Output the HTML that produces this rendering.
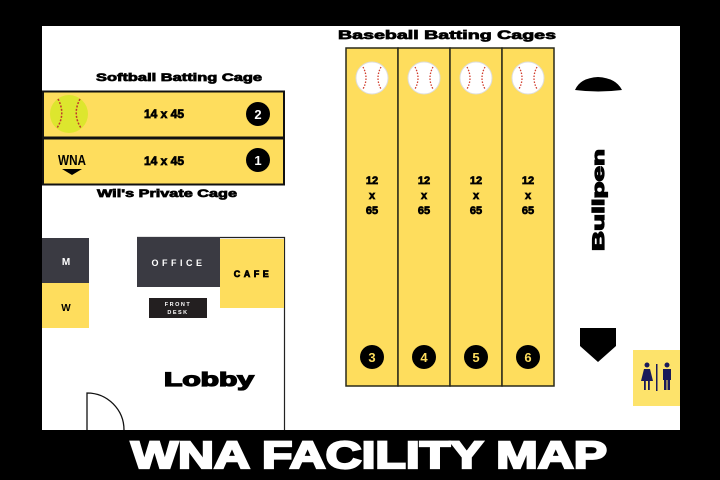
<!DOCTYPE html>
<html><head><meta charset="utf-8"><style>
html,body{margin:0;padding:0;background:#000;}
svg{display:block;}
text{font-family:"Liberation Sans",sans-serif;font-weight:bold;}
.h{stroke:#000;stroke-width:0.7;}
</style></head><body>
<svg width="720" height="480" viewBox="0 0 720 480" xmlns="http://www.w3.org/2000/svg">
<rect width="720" height="480" fill="#000"/>
<rect x="42" y="26" width="638" height="404" fill="#fff"/>

<!-- Softball cages -->
<text class="h" x="179" y="81" font-size="11" text-anchor="middle" textLength="166" lengthAdjust="spacingAndGlyphs">Softball Batting Cage</text>
<rect x="43" y="91.5" width="241" height="46" fill="#fedd5d" stroke="#111" stroke-width="2"/>
<rect x="43" y="138.5" width="241" height="46" fill="#fedd5d" stroke="#111" stroke-width="2"/>
<circle cx="69" cy="114" r="19" fill="#dde62e"/>
<path d="M58 99 Q66 114 57 128 M80 99 Q72 114 81 128" stroke="#c0392b" stroke-width="1.5" fill="none" stroke-dasharray="2 1.5"/>
<text class="h" x="164" y="118" font-size="12" text-anchor="middle">14 x 45</text>
<text class="h" x="164" y="165" font-size="12" text-anchor="middle">14 x 45</text>
<circle cx="258" cy="114" r="12" fill="#000"/><text x="258" y="119" font-size="13" fill="#fff" text-anchor="middle">2</text>
<circle cx="258" cy="160" r="12" fill="#000"/><text x="258" y="165" font-size="13" fill="#fff" text-anchor="middle">1</text>
<text x="72" y="165" font-size="15" text-anchor="middle" textLength="28" lengthAdjust="spacingAndGlyphs">WNA</text>
<path d="M62 169 L82 169 L72 175 Z" fill="#000"/>
<text class="h" x="167" y="197" font-size="11" text-anchor="middle" textLength="140" lengthAdjust="spacingAndGlyphs">Wil's Private Cage</text>

<!-- Restrooms M/W -->
<rect x="42" y="238" width="47" height="45" fill="#3a3a42"/>
<text x="66" y="265" font-size="10" fill="#fff" text-anchor="middle">M</text>
<rect x="42" y="283" width="47" height="45" fill="#fedd5d"/>
<text x="66" y="311" font-size="10" text-anchor="middle">W</text>

<!-- Lobby area -->
<path d="M137 237.5 L284.5 237.5 L284.5 430" stroke="#222" stroke-width="1.2" fill="none"/>
<rect x="137" y="237" width="83" height="50" fill="#3a3a42"/>
<text x="178.5" y="266" font-size="9" fill="#fff" text-anchor="middle" letter-spacing="3.5">OFFICE</text>
<rect x="220" y="239" width="64" height="69" fill="#fedd5d"/>
<text class="h" x="253" y="277" font-size="9" text-anchor="middle" letter-spacing="3.5">CAFE</text>
<rect x="149" y="298" width="58" height="20" fill="#231f20"/>
<text x="178" y="306" font-size="5.5" fill="#fff" text-anchor="middle" letter-spacing="1.5">FRONT</text>
<text x="178" y="314" font-size="5.5" fill="#fff" text-anchor="middle" letter-spacing="1.5">DESK</text>
<text x="209" y="386" font-size="19" text-anchor="middle" textLength="90" lengthAdjust="spacingAndGlyphs" stroke="#000" stroke-width="1.3">Lobby</text>
<path d="M87 430 L87 393 A37 37 0 0 1 124 430" stroke="#111" stroke-width="1.3" fill="none"/>

<!-- Baseball cages -->
<text class="h" x="447" y="39" font-size="12" text-anchor="middle" textLength="218" lengthAdjust="spacingAndGlyphs">Baseball Batting Cages</text>
<g stroke="#2a2a1a" stroke-width="1.5" fill="#fedd5d">
<rect x="346" y="48" width="52" height="338"/>
<rect x="398" y="48" width="52" height="338"/>
<rect x="450" y="48" width="52" height="338"/>
<rect x="502" y="48" width="52" height="338"/>
</g>
<g font-size="11" text-anchor="middle">
<g transform="translate(372,0)"><circle cx="0" cy="78" r="16" fill="#fff" stroke="#ddd"/><path d="M-9 67 Q-3 78 -9 89 M9 67 Q3 78 9 89" stroke="#d03a2a" stroke-width="1.3" fill="none" stroke-dasharray="1.5 1.5"/><text class="h" y="184">12</text><text class="h" y="199">x</text><text class="h" y="214">65</text><circle cx="0" cy="357" r="12" fill="#000"/><text y="362" fill="#fedd5d" font-size="13" font-weight="normal">3</text></g>
<g transform="translate(424,0)"><circle cx="0" cy="78" r="16" fill="#fff" stroke="#ddd"/><path d="M-9 67 Q-3 78 -9 89 M9 67 Q3 78 9 89" stroke="#d03a2a" stroke-width="1.3" fill="none" stroke-dasharray="1.5 1.5"/><text class="h" y="184">12</text><text class="h" y="199">x</text><text class="h" y="214">65</text><circle cx="0" cy="357" r="12" fill="#000"/><text y="362" fill="#fedd5d" font-size="13" font-weight="normal">4</text></g>
<g transform="translate(476,0)"><circle cx="0" cy="78" r="16" fill="#fff" stroke="#ddd"/><path d="M-9 67 Q-3 78 -9 89 M9 67 Q3 78 9 89" stroke="#d03a2a" stroke-width="1.3" fill="none" stroke-dasharray="1.5 1.5"/><text class="h" y="184">12</text><text class="h" y="199">x</text><text class="h" y="214">65</text><circle cx="0" cy="357" r="12" fill="#000"/><text y="362" fill="#fedd5d" font-size="13" font-weight="normal">5</text></g>
<g transform="translate(528,0)"><circle cx="0" cy="78" r="16" fill="#fff" stroke="#ddd"/><path d="M-9 67 Q-3 78 -9 89 M9 67 Q3 78 9 89" stroke="#d03a2a" stroke-width="1.3" fill="none" stroke-dasharray="1.5 1.5"/><text class="h" y="184">12</text><text class="h" y="199">x</text><text class="h" y="214">65</text><circle cx="0" cy="357" r="12" fill="#000"/><text y="362" fill="#fedd5d" font-size="13" font-weight="normal">6</text></g>
</g>

<!-- Bullpen -->
<path d="M575 90 Q580 78 598 77 Q616 78 622 90 Q598 93 575 90 Z" fill="#000"/>
<text transform="translate(604,200) rotate(-90)" font-size="17" text-anchor="middle" textLength="102" lengthAdjust="spacingAndGlyphs" stroke="#000" stroke-width="1.2">Bullpen</text>
<path d="M580 328 L616 328 L616 346 L598 362 L580 346 Z" fill="#000"/>

<!-- Restroom -->
<rect x="633" y="350" width="47" height="56" fill="#fde36b"/>
<g fill="#1a1a5a">
<circle cx="647" cy="365" r="2.5"/><path d="M644 369 L650 369 L653 381 L641 381 Z"/><rect x="644" y="381" width="1.8" height="9"/><rect x="648" y="381" width="1.8" height="9"/>
<rect x="656" y="364" width="1.5" height="27"/>
<circle cx="667" cy="365" r="2.5"/><rect x="663" y="369" width="8" height="11"/><rect x="664" y="380" width="2.5" height="10"/><rect x="667.5" y="380" width="2.5" height="10"/>
</g>

<!-- Title -->
<text x="369" y="468" font-size="38" fill="#fff" stroke="#fff" stroke-width="2.2" text-anchor="middle" textLength="476" lengthAdjust="spacingAndGlyphs">WNA FACILITY MAP</text>
</svg>
</body></html>
